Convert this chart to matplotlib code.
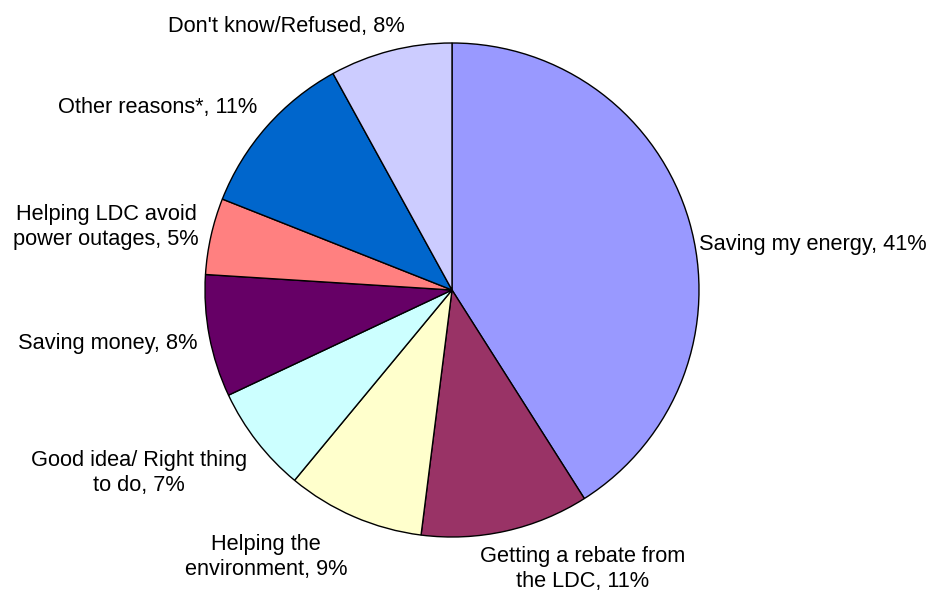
import matplotlib
matplotlib.use('Agg')
import matplotlib.pyplot as plt

plt.rcParams['font.family'] = ['Liberation Sans', 'DejaVu Sans']

# survey answers, clockwise from 12 o'clock
reasons = ['Saving my energy', 'Getting a rebate from\nthe LDC', 'Helping the\nenvironment',
           'Good idea/ Right thing\nto do', 'Saving money', 'Helping LDC avoid\npower outages',
           'Other reasons*', "Don't know/Refused"]
shares = [41, 11, 9, 7, 8, 5, 11, 8]
colors = ['#9999FF', '#993366', '#FFFFCC', '#CCFFFF', '#660066', '#FF8080', '#0066CC', '#CCCCFF']

# label anchors (units of pie radius) and alignment
label_pos = [(1.0, 0.186, 'left'), (0.53, -1.13, 'center'), (-0.753, -1.08, 'center'),
             (-1.267, -0.741, 'center'), (-1.03, -0.215, 'right'), (-1.40, 0.255, 'center'),
             (-0.79, 0.737, 'right'), (-0.672, 1.065, 'center')]

fig = plt.figure(figsize=(9.32, 5.93), dpi=100)
ax = fig.add_axes([0, 0, 1, 1])

ax.pie(shares, colors=colors, startangle=90, counterclock=False, radius=1.0,
       wedgeprops=dict(edgecolor='black', linewidth=1.0))

for name, val, (x, y, ha) in zip(reasons, shares, label_pos):
    ax.text(x, y, f'{name}, {val}%', ha=ha, va='center', fontsize=15.7,
            multialignment='center', linespacing=1.25)

# centre at (452, 290) px, radius 247 px
ax.set_xlim(-452 / 247, 480 / 247)
ax.set_ylim(-303 / 247, 290 / 247)
ax.set_aspect('auto')
ax.axis('off')

fig.savefig('out.png', dpi=100)
